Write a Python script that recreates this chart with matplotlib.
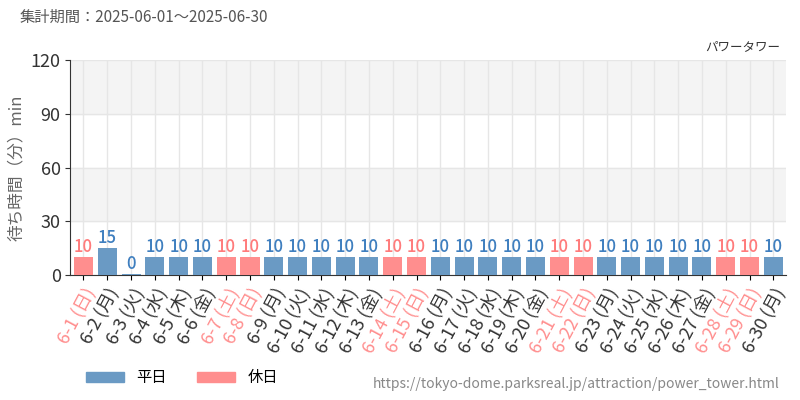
import matplotlib
matplotlib.use('Agg')
import matplotlib.pyplot as plt
from matplotlib.patches import Patch

plt.rcParams['font.family'] = ['Noto Sans CJK JP', 'DejaVu Sans']

days = list(range(1, 31))
weekdays = ['日', '月', '火', '水', '木', '金', '土']
values = [10, 15, 0, 10, 10, 10, 10, 10, 10, 10, 10, 10, 10, 10, 10,
          10, 10, 10, 10, 10, 10, 10, 10, 10, 10, 10, 10, 10, 10, 10]
labels = ['6-%d (%s)' % (d, weekdays[(d - 1) % 7]) for d in days]
holiday = [weekdays[(d - 1) % 7] in ('土', '日') for d in days]

BLUE, PINK = '#6a9ac4', '#ff8e8e'
BLUE_T, PINK_T = '#3f7fbf', '#ff7b7b'

fig = plt.figure(figsize=(8, 4), dpi=100)
ax = fig.add_axes([0.088, 0.312, 0.895, 0.538])

ax.axhspan(30, 60, color='#f4f4f4', zorder=0)
ax.axhspan(90, 120, color='#f4f4f4', zorder=0)
x = list(range(len(days)))
ax.bar(x, [max(v, 0.8) for v in values], width=0.8,
       color=[PINK if h else BLUE for h in holiday], zorder=3)
for i, v in enumerate(values):
    ax.text(i, max(v, 0.8) + 0.6, str(v), ha='center', va='bottom', fontsize=12,
            color=PINK_T if holiday[i] else BLUE_T, fontweight='medium', zorder=4)

ax.set_xlim(-0.55, len(days) - 0.45)
ax.set_ylim(0, 120)
ax.set_yticks([0, 30, 60, 90, 120])
ax.tick_params(axis='y', labelsize=13, colors='#333333')
ax.set_xticks(x)
ax.set_xticklabels(labels, rotation=62, ha='right', rotation_mode='anchor', fontsize=13)
for lbl, h in zip(ax.get_xticklabels(), holiday):
    lbl.set_color(PINK if h else '#333333')
ax.grid(True, color='#e6e6e6', linewidth=1, zorder=1)
for s in ['top', 'right']:
    ax.spines[s].set_visible(False)
ax.spines['left'].set_color('#333333')
ax.spines['bottom'].set_color('#333333')
ax.set_ylabel('待ち時間（分）min', fontsize=12, color='#666666')

fig.text(0.025, 0.945, '集計期間：2025-06-01～2025-06-30', fontsize=11, color='#555555')
fig.text(0.975, 0.875, 'パワータワー', fontsize=9, color='#333333', ha='right')
fig.text(0.975, 0.03, 'https://tokyo-dome.parksreal.jp/attraction/power_tower.html',
         fontsize=10, color='#888888', ha='right')
fig.legend(handles=[Patch(color=BLUE, label='平日'), Patch(color=PINK, label='休日')],
           loc='lower left', bbox_to_anchor=(0.09, 0.0), ncol=2, frameon=False,
           fontsize=11, handlelength=2.5, columnspacing=2.0)

fig.savefig('out.png', dpi=100)
